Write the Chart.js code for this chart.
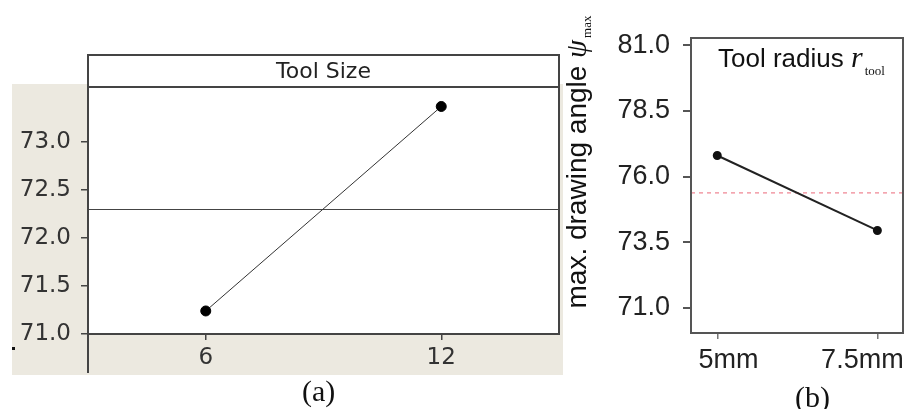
<!DOCTYPE html>
<html>
<head>
<meta charset="utf-8">
<script src="https://cdn.jsdelivr.net/npm/chart.js@4.4.0/dist/chart.umd.min.js"></script>
<style>
  html, body { margin: 0; padding: 0; background: #fff; }
  #wrap { position: relative; width: 909px; height: 409px; overflow: hidden; }
  #chartA { position: absolute; left: 0; top: 0; }
  #chartB { position: absolute; left: 540px; top: 0; }
  .cap { position: absolute; font-family: "Liberation Serif", "Times New Roman", serif; font-size: 30px; line-height: 30px; color: #111; }
</style>
</head>
<body>
<div id="wrap">
  <canvas id="chartA" width="570" height="409"></canvas>
  <canvas id="chartB" width="369" height="409"></canvas>
  <div class="cap" style="left:302px; top:376px;">(a)</div>
  <div class="cap" style="left:795px; top:382px;">(b)</div>
</div>
<script>
// panel (a): main effect of tool size
const toolSizes = ['6', '12'];
const toolSizeMeans = [71.24, 73.37];
const grandMeanA = 72.30;
const yTicksA = [71.0, 71.5, 72.0, 72.5, 73.0];

// panel (b): main effect of tool radius
const toolRadii = [5, 7.5];
const toolRadiusLabels = ['5mm', '7.5mm'];
const toolRadiusMeans = [76.8, 73.95];
const grandMeanB = 75.38;
const yTicksB = [71.0, 73.5, 76.0, 78.5, 81.0];

const minitabFont = 'DejaVu Sans';
const arialFont = 'Liberation Sans';

// beige minitab background, header box, frame and grand mean line
const frameA = {
  id: 'frameA',
  beforeDraw(chart) {
    const { ctx, chartArea: a } = chart;
    ctx.save();
    ctx.fillStyle = '#ECE9E0';
    ctx.fillRect(12, 84, 551, 291);
    ctx.fillStyle = '#fff';
    ctx.fillRect(a.left, 55, a.right - a.left, a.bottom - 55);
    // stray speck left of the 71.0 label
    ctx.fillStyle = '#111';
    ctx.fillRect(12, 347, 3, 3);
    ctx.restore();
  },
  beforeDatasetsDraw(chart) {
    const { ctx, chartArea: a, scales } = chart;
    const y = Math.round(scales.y.getPixelForValue(grandMeanA)) + 0.5;
    ctx.save();
    ctx.strokeStyle = '#444';
    ctx.lineWidth = 1;
    ctx.beginPath();
    ctx.moveTo(a.left, y);
    ctx.lineTo(a.right, y);
    ctx.stroke();
    ctx.restore();
  },
  afterDraw(chart) {
    const { ctx, chartArea: a } = chart;
    ctx.save();
    ctx.strokeStyle = '#444';
    ctx.lineWidth = 2;
    ctx.strokeRect(a.left, 55, a.right - a.left, a.top - 55);
    ctx.beginPath();
    ctx.moveTo(a.right, a.top);
    ctx.lineTo(a.right, a.bottom);
    ctx.lineTo(a.left, a.bottom);
    ctx.moveTo(a.left, a.top);
    ctx.lineTo(a.left, 373);
    ctx.stroke();
    ctx.fillStyle = '#222';
    ctx.font = '22px "' + minitabFont + '"';
    ctx.textAlign = 'center';
    ctx.textBaseline = 'alphabetic';
    ctx.fillText('Tool Size', (a.left + a.right) / 2, 78);
    ctx.restore();
  }
};

// box, dashed grand mean, factor title and y axis title
const frameB = {
  id: 'frameB',
  beforeDatasetsDraw(chart) {
    const { ctx, chartArea: a, scales } = chart;
    const y = scales.y.getPixelForValue(grandMeanB);
    ctx.save();
    ctx.strokeStyle = '#F29AA6';
    ctx.lineWidth = 1.5;
    ctx.setLineDash([4, 4]);
    ctx.beginPath();
    ctx.moveTo(a.left, y);
    ctx.lineTo(a.right, y);
    ctx.stroke();
    ctx.restore();
  },
  afterDraw(chart) {
    const { ctx, chartArea: a } = chart;
    ctx.save();
    ctx.strokeStyle = '#555';
    ctx.lineWidth = 2;
    ctx.strokeRect(a.left, a.top, a.right - a.left, a.bottom - a.top);

    // title: Tool radius r_tool
    ctx.fillStyle = '#111';
    ctx.textBaseline = 'alphabetic';
    ctx.textAlign = 'left';
    let x = 178;
    ctx.font = '26px "' + arialFont + '"';
    ctx.fillText('Tool radius ', x, 67);
    x += ctx.measureText('Tool radius ').width;
    ctx.font = 'italic 30px "Liberation Serif"';
    ctx.fillText('r', x, 67);
    x += ctx.measureText('r').width + 2;
    ctx.font = '13px "Liberation Serif"';
    ctx.fillText('tool', x, 75);

    // y title: max. drawing angle psi_max
    const main = 'max. drawing angle ';
    ctx.font = '28px "' + arialFont + '"';
    const w1 = ctx.measureText(main).width;
    ctx.font = 'italic 29px "Liberation Serif"';
    const w2 = ctx.measureText('ψ').width;
    ctx.font = '13px "Liberation Serif"';
    const w3 = ctx.measureText('max').width;
    const total = w1 + w2 + 2 + w3;
    ctx.translate(46, 162);
    ctx.rotate(-Math.PI / 2);
    let t = -total / 2;
    ctx.font = '28px "' + arialFont + '"';
    ctx.fillText(main, t, 0);
    t += w1;
    ctx.font = 'italic 29px "Liberation Serif"';
    ctx.fillText('ψ', t, 0);
    t += w2 + 2;
    ctx.font = '13px "Liberation Serif"';
    ctx.fillText('max', t, 5);
    ctx.restore();
  }
};

new Chart(document.getElementById('chartA'), {
  type: 'line',
  data: {
    labels: toolSizes,
    datasets: [{
      data: toolSizeMeans,
      borderColor: '#333',
      borderWidth: 1,
      pointRadius: 5,
      pointBackgroundColor: '#000',
      pointBorderColor: '#000',
      tension: 0
    }]
  },
  options: {
    responsive: false,
    animation: false,
    layout: { padding: { left: 0, right: 11, top: 87, bottom: 0 } },
    plugins: { legend: { display: false }, tooltip: { enabled: false } },
    scales: {
      x: {
        type: 'category',
        offset: true,
        grid: { drawOnChartArea: false, tickLength: 6, color: '#444', lineWidth: 1.5 },
        border: { display: false },
        ticks: { font: { family: minitabFont, size: 23 }, color: '#333', padding: 4, maxRotation: 0 },
        afterFit: (s) => { s.height = 75; }
      },
      y: {
        min: 71.0,
        max: 73.573,
        afterBuildTicks: (s) => { s.ticks = yTicksA.map(v => ({ value: v })); },
        grid: { drawOnChartArea: false, tickLength: 7, color: '#444', lineWidth: 1.5 },
        border: { display: false },
        ticks: { font: { family: minitabFont, size: 23 }, color: '#333', padding: 10, callback: (v) => v.toFixed(1) },
        afterFit: (s) => { s.width = 88; }
      }
    }
  },
  plugins: [frameA]
});

// labels sit a little off their ticks in the original, padded with spaces
const labelPads = [['   ', ''], ['', '    ']];

new Chart(document.getElementById('chartB'), {
  type: 'line',
  data: {
    datasets: [{
      data: toolRadii.map((r, i) => ({ x: r, y: toolRadiusMeans[i] })),
      borderColor: '#222',
      borderWidth: 2,
      pointRadius: 3.5,
      pointBackgroundColor: '#111',
      pointBorderColor: '#111',
      tension: 0
    }]
  },
  options: {
    responsive: false,
    animation: false,
    layout: { padding: { left: 0, right: 2, top: 38, bottom: 0 } },
    plugins: { legend: { display: false }, tooltip: { enabled: false } },
    scales: {
      x: {
        type: 'linear',
        min: 4.59,
        max: 7.9,
        afterBuildTicks: (s) => { s.ticks = toolRadii.map(v => ({ value: v })); },
        grid: { drawOnChartArea: false, tickLength: 6, color: '#777', lineWidth: 1.5 },
        border: { display: false },
        ticks: {
          font: { family: arialFont, size: 27 }, color: '#222', padding: 5, maxRotation: 0, autoSkip: false,
          callback: (v, i) => labelPads[i][0] + toolRadiusLabels[i] + labelPads[i][1]
        },
        afterFit: (s) => { s.height = 76; s.paddingLeft = 0; s.paddingRight = 0; }
      },
      y: {
        min: 70.05,
        max: 81.27,
        afterBuildTicks: (s) => { s.ticks = yTicksB.map(v => ({ value: v })); },
        grid: { drawOnChartArea: false, tickLength: 8, color: '#555', lineWidth: 2 },
        border: { display: false },
        ticks: { font: { family: arialFont, size: 27 }, color: '#222', padding: 13, callback: (v) => v.toFixed(1) },
        afterFit: (s) => { s.width = 151; }
      }
    }
  },
  plugins: [frameB]
});
</script>
</body>
</html>
